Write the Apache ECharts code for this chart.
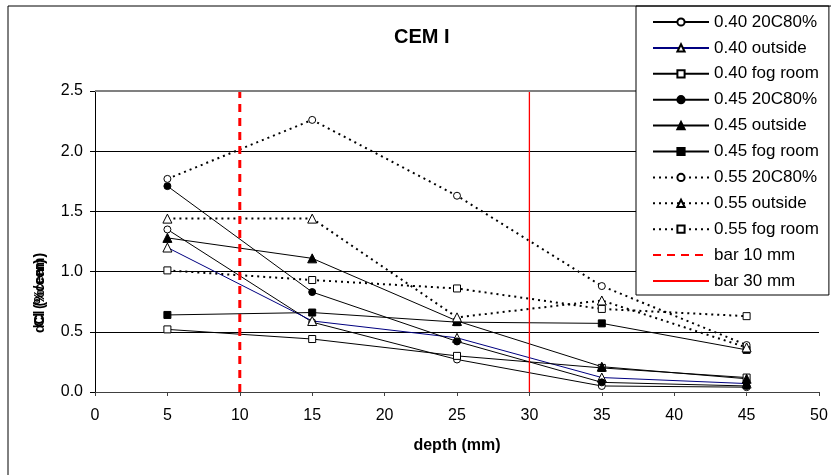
<!DOCTYPE html>
<html>
<head>
<meta charset="utf-8">
<script src="https://cdn.jsdelivr.net/npm/echarts@6/dist/echarts.min.js"></script>
<style>
html,body{margin:0;padding:0;background:#fff;}
#chart{width:831px;height:475px;}
</style>
</head>
<body>
<div id="chart"></div>
<script>
var depths = [5, 15, 25, 35, 45];
var s040_20C80 = [1.35, 0.58, 0.27, 0.05, 0.04];
var s040_outside = [1.20, 0.59, 0.45, 0.12, 0.07];
var s040_fog = [0.52, 0.44, 0.30, 0.20, 0.12];
var s045_20C80 = [1.71, 0.83, 0.42, 0.08, 0.05];
var s045_outside = [1.28, 1.11, 0.59, 0.21, 0.11];
var s045_fog = [0.64, 0.66, 0.58, 0.57, 0.35];
var s055_20C80 = [1.77, 2.26, 1.63, 0.88, 0.39];
var s055_outside = [1.44, 1.44, 0.62, 0.76, 0.37];
var s055_fog = [1.01, 0.93, 0.86, 0.69, 0.63];
var bar10 = [[10, 0], [10, 2.5]];
var bar30 = [[30, 0], [30, 2.5]];
var xTicks = [0, 5, 10, 15, 20, 25, 30, 35, 40, 45, 50];
var yTicks = [0, 0.5, 1.0, 1.5, 2.0, 2.5];

var FONT = 'Liberation Sans, Arial, sans-serif';
function pairs(vals) { return depths.map(function (d, i) { return [d, vals[i]]; }); }

function mk(name, vals, symbol, filled, lineColor, dotted) {
  return {
    name: name, type: 'line', data: pairs(vals),
    symbol: symbol, symbolSize: symbol === 'triangle' ? 9 : 7,
    showSymbol: true,
    lineStyle: { color: lineColor, width: dotted ? 2 : 1, type: dotted ? [2, 4] : 'solid' },
    itemStyle: { color: filled ? '#000' : '#fff', borderColor: '#000', borderWidth: 1 },
    emphasis: { disabled: true },
    animation: false, z: 3
  };
}

var series = [
  mk('0.40 20C80%', s040_20C80, 'circle', false, '#000', false),
  mk('0.40 outside', s040_outside, 'triangle', false, '#000080', false),
  mk('0.40 fog room', s040_fog, 'rect', false, '#000', false),
  mk('0.45 20C80%', s045_20C80, 'circle', true, '#000', false),
  mk('0.45 outside', s045_outside, 'triangle', true, '#000', false),
  mk('0.45 fog room', s045_fog, 'rect', true, '#000', false),
  mk('0.55 20C80%', s055_20C80, 'circle', false, '#000', true),
  mk('0.55 outside', s055_outside, 'triangle', false, '#000', true),
  mk('0.55 fog room', s055_fog, 'rect', false, '#000', true),
  {
    name: 'bar 10 mm', type: 'line', data: bar10, symbol: 'none',
    lineStyle: { color: '#ff0000', width: 3, type: [8, 6] },
    itemStyle: { color: '#ff0000' }, animation: false, z: 4
  },
  {
    name: 'bar 30 mm', type: 'line', data: bar30, symbol: 'none',
    lineStyle: { color: '#ff0000', width: 1.3 },
    itemStyle: { color: '#ff0000' }, animation: false, z: 4,
    markLine: {
      silent: true, symbol: 'none', animation: false,
      label: { show: false },
      lineStyle: { color: '#808080', width: 2, type: 'solid' },
      data: [{ yAxis: 2.5 }]
    }
  }
];

var legendData = series.map(function (s) {
  if (s.name.indexOf('bar') === 0) {
    return { name: s.name, itemStyle: { opacity: 0, color: 'transparent', borderColor: 'transparent', borderWidth: 0 } };
  }
  return { name: s.name };
});

var chart = echarts.init(document.getElementById('chart'), null, { renderer: 'canvas' });
chart.setOption({
  backgroundColor: '#fff',
  animation: false,
  textStyle: { fontFamily: FONT },
  title: {
    text: 'CEM I', left: 389, top: 22,
    textStyle: { fontFamily: FONT, fontSize: 20, fontWeight: 'bold', color: '#000' }
  },
  grid: { left: 95, right: 12, top: 91, bottom: 83 },
  xAxis: {
    type: 'value', min: 0, max: 50, interval: 5,
    name: 'depth (mm)', nameLocation: 'middle', nameGap: 46,
    nameTextStyle: { fontFamily: FONT, fontSize: 16, fontWeight: 'bold', color: '#000' },
    axisLine: { show: true, lineStyle: { color: '#404040', width: 1 } },
    axisTick: { show: true, inside: false, length: 4, lineStyle: { color: '#404040' } },
    axisLabel: { margin: 16, fontFamily: FONT, fontSize: 16, color: '#000',
      formatter: function (v) { return xTicks.indexOf(v) >= 0 ? String(v) : ''; } },
    splitLine: { show: false }
  },
  yAxis: {
    type: 'value', min: 0, max: 2.5, interval: 0.5,
    axisLine: { show: true, lineStyle: { color: '#000', width: 1 } },
    axisTick: { show: true, inside: false, length: 5, lineStyle: { color: '#000' } },
    axisLabel: { margin: 12, fontFamily: FONT, fontSize: 16, color: '#000',
      formatter: function (v) { return yTicks.indexOf(v) >= 0 ? v.toFixed(1) : ''; } },
    splitLine: { show: true, lineStyle: { color: '#000', width: 1 } }
  },
  legend: {
    orient: 'vertical', left: 636, top: 6,
    padding: [6, 10, 4, 16],
    itemWidth: 56, itemHeight: 9, itemGap: 5.9,
    backgroundColor: '#fff', borderColor: '#000', borderWidth: 1,
    textStyle: { fontFamily: FONT, fontSize: 17, color: '#000', lineHeight: 20 },
    data: legendData,
    selectedMode: false, z: 20
  },
  graphic: [
    {
      type: 'rect', shape: { x: 8, y: 6, width: 840, height: 480 },
      style: { fill: 'none', stroke: '#000', lineWidth: 1 }, z: 100, silent: true
    },
    {
      type: 'text', x: 40, y: 293, rotation: Math.PI / 2,
      style: { text: 'dCl (%/cem)', fill: '#000', font: 'bold 14px ' + FONT, align: 'center', verticalAlign: 'middle' },
      z: 100, silent: true
    },
    {
      type: 'text', x: 40, y: 293, rotation: Math.PI / 2,
      style: { text: 'Cl (%cem)', fill: '#000', font: 'bold 14px ' + FONT, align: 'center', verticalAlign: 'middle' },
      z: 100, silent: true
    }
  ],
  series: series
});
</script>
</body>
</html>
